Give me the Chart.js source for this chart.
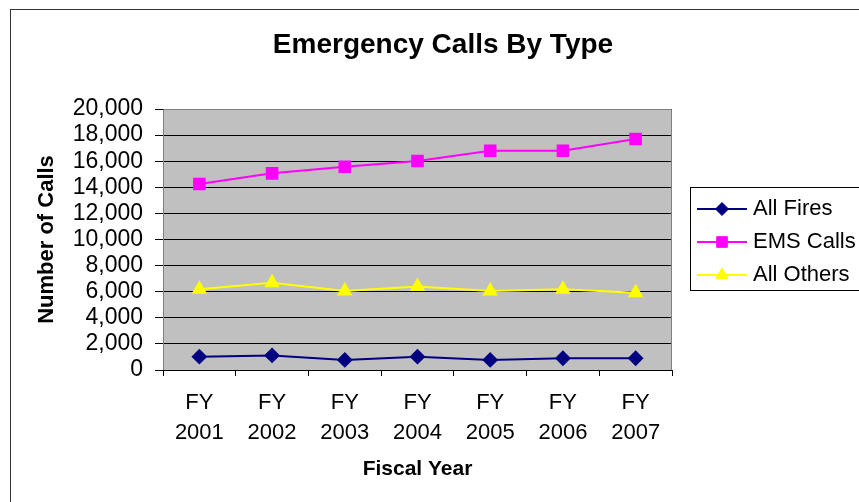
<!DOCTYPE html>
<html>
<head>
<meta charset="utf-8">
<script src="https://cdn.jsdelivr.net/npm/chart.js@4.4.1/dist/chart.umd.min.js"></script>
<style>
  html, body { margin: 0; padding: 0; background: #fff; overflow: hidden; }
  #grafica { display: block; }
</style>
</head>
<body>
<canvas id="grafica" width="859" height="502"></canvas>
<script>
// datos
const years = [['FY', '2001'], ['FY', '2002'], ['FY', '2003'], ['FY', '2004'], ['FY', '2005'], ['FY', '2006'], ['FY', '2007']];
const allFires = [1020, 1120, 770, 1020, 770, 900, 900];
const emsCalls = [14250, 15070, 15580, 16010, 16800, 16800, 17700];
const allOthers = [6180, 6690, 6050, 6390, 6050, 6180, 5920];
const yTicks = [0, 2000, 4000, 6000, 8000, 10000, 12000, 14000, 16000, 18000, 20000];

const FAMILY = '"Liberation Sans", Arial, sans-serif';

// fondo gris del area, borde exterior, titulo y leyenda
const marco = {
  id: 'marco',
  beforeDraw(chart) {
    const ctx = chart.ctx;
    const a = chart.chartArea;
    ctx.save();
    ctx.fillStyle = '#fff';
    ctx.fillRect(0, 0, chart.width, chart.height);
    ctx.fillStyle = '#c0c0c0';
    ctx.fillRect(a.left, a.top, a.right - a.left, a.bottom - a.top);
    ctx.restore();
  },
  beforeDatasetsDraw(chart) {
    const ctx = chart.ctx;
    const a = chart.chartArea;
    ctx.save();
    ctx.strokeStyle = '#808080';
    ctx.lineWidth = 1;
    ctx.beginPath();
    ctx.moveTo(a.left + 0.5, a.bottom);
    ctx.lineTo(a.left + 0.5, a.top + 0.5);
    ctx.lineTo(a.right - 0.5, a.top + 0.5);
    ctx.lineTo(a.right - 0.5, a.bottom);
    ctx.stroke();
    ctx.restore();
  },
  afterDraw(chart) {
    const ctx = chart.ctx;
    ctx.save();
    // borde del grafico
    ctx.strokeStyle = '#333';
    ctx.lineWidth = 1;
    ctx.strokeRect(10.5, 9.5, 1000, 1000);
    // titulo
    ctx.fillStyle = '#000';
    ctx.font = 'bold 28px ' + FAMILY;
    ctx.textAlign = 'center';
    ctx.textBaseline = 'middle';
    ctx.fillText('Emergency Calls By Type', 443, 45);
    // leyenda
    ctx.strokeStyle = '#000';
    ctx.strokeRect(690.5, 187.5, 300, 103);
    ctx.font = '22px ' + FAMILY;
    ctx.textAlign = 'left';
    const ys = [209, 242, 275];
    chart.data.datasets.forEach((ds, i) => {
      const y = ys[i];
      ctx.strokeStyle = ds.borderColor;
      ctx.lineWidth = ds.borderWidth;
      ctx.beginPath();
      ctx.moveTo(697, y);
      ctx.lineTo(747, y);
      ctx.stroke();
      ctx.fillStyle = ds.pointBackgroundColor;
      ctx.strokeStyle = ds.pointBorderColor;
      ctx.lineWidth = 1;
      Chart.helpers.drawPoint(ctx, {pointStyle: ds.pointStyle, radius: ds.pointRadius, rotation: 0, borderWidth: 1}, 722, y);
      ctx.fillStyle = '#000';
      ctx.fillText(ds.label, 753, y);
    });
    ctx.restore();
  }
};

const data = {
  labels: years,
  datasets: [
    {
      label: 'All Fires',
      data: allFires,
      borderColor: '#000080',
      backgroundColor: '#000080',
      pointBackgroundColor: '#000080',
      pointBorderColor: '#000080',
      borderWidth: 2,
      pointStyle: 'rectRot',
      pointRadius: 6.5
    },
    {
      label: 'EMS Calls',
      data: emsCalls,
      borderColor: '#ff00ff',
      backgroundColor: '#ff00ff',
      pointBackgroundColor: '#ff00ff',
      pointBorderColor: '#ff00ff',
      borderWidth: 2,
      pointStyle: 'rect',
      pointRadius: 7.5
    },
    {
      label: 'All Others',
      data: allOthers,
      borderColor: '#ffff00',
      backgroundColor: '#ffff00',
      pointBackgroundColor: '#ffff00',
      pointBorderColor: '#ffff00',
      borderWidth: 2,
      pointStyle: 'triangle',
      pointRadius: 7
    }
  ]
};

const config = {
  type: 'line',
  data: data,
  plugins: [marco],
  options: {
    responsive: false,
    animation: false,
    devicePixelRatio: 1,
    layout: { padding: { left: 0, top: 109, right: 187, bottom: 0 } },
    plugins: {
      legend: { display: false },
      title: { display: false },
      tooltip: { enabled: false }
    },
    elements: { line: { tension: 0 } },
    scales: {
      x: {
        offset: true,
        grid: { offset: true, drawOnChartArea: false, tickLength: 6, color: '#000', tickColor: '#000' },
        border: { display: true, color: '#000', width: 1 },
        ticks: {
          color: '#000',
          font: { family: FAMILY, size: 22, lineHeight: 30 / 22 },
          padding: 12,
          maxRotation: 0,
          autoSkip: false
        },
        title: {
          display: true,
          text: 'Fiscal Year',
          color: '#000',
          font: { family: FAMILY, size: 21, weight: 'bold' },
          padding: { top: 0, bottom: 20 }
        },
        afterFit(scale) { scale.height = 132; }
      },
      y: {
        min: 0,
        max: 20000,
        afterBuildTicks(scale) { scale.ticks = yTicks.map(v => ({ value: v })); },
        grid: { color: '#000', tickColor: '#000', tickLength: 8, lineWidth: 1 },
        border: { display: false },
        ticks: {
          color: '#000',
          autoSkip: false,
          font: { family: FAMILY, size: 23 },
          padding: 12,
          callback: v => v.toLocaleString('en-US')
        },
        title: {
          display: true,
          text: 'Number of Calls',
          color: '#000',
          font: { family: FAMILY, size: 22, weight: 'bold' },
          padding: { top: 34, bottom: 0 }
        },
        afterFit(scale) { scale.width = 163; }
      }
    }
  }
};

let grafico = new Chart(document.getElementById('grafica'), config);
</script>
</body>
</html>
